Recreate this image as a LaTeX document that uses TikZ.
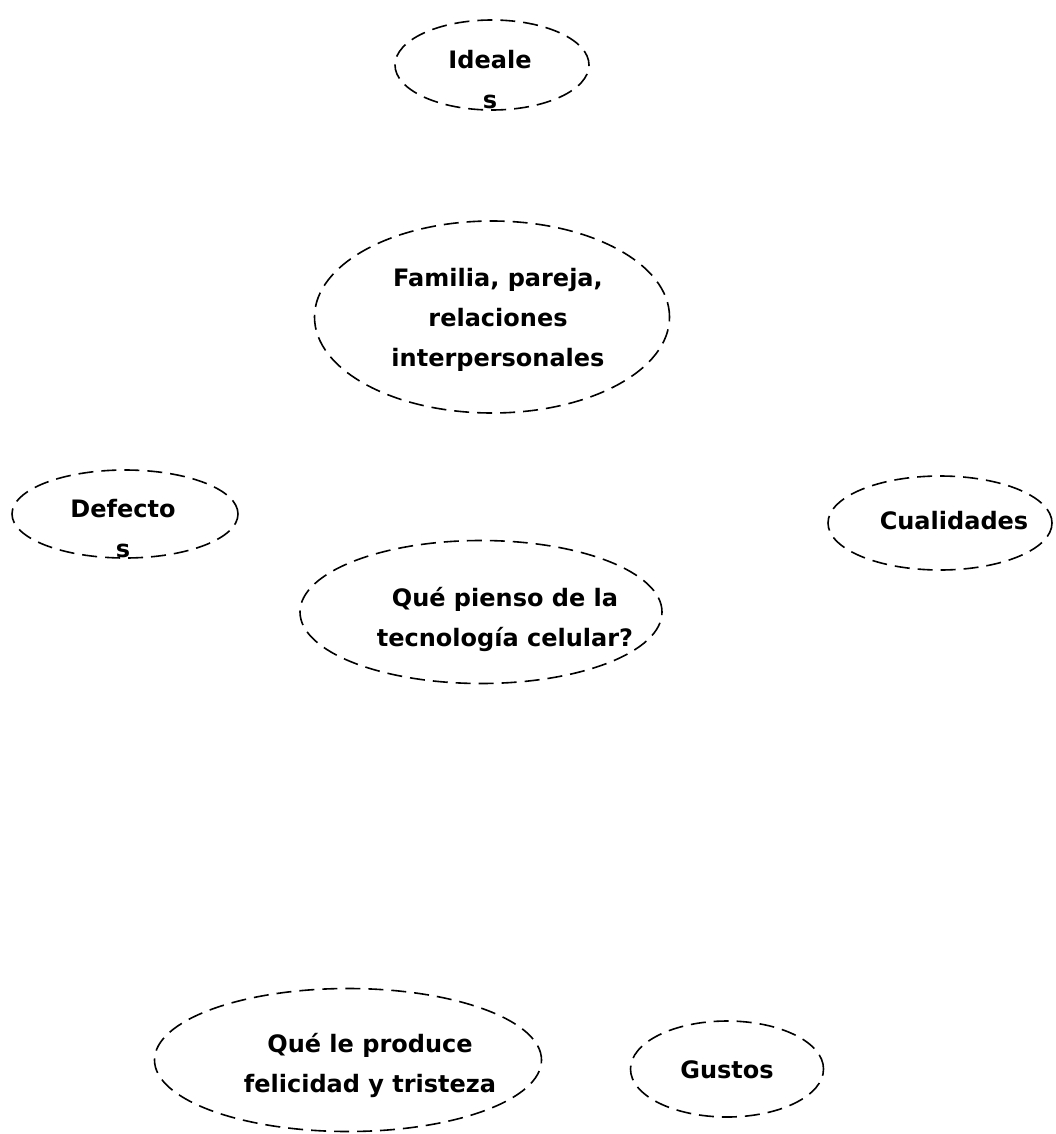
\documentclass[tikz,border=0pt]{standalone}
\usepackage{fontspec}
\setmainfont{DejaVu Sans}
\usetikzlibrary{shapes}
\usetikzlibrary{shapes.geometric}

\begin{document}
\begin{tikzpicture}[x=1pt,y=-1pt,
    burbuja/.style={ellipse,draw,dash pattern=on 15pt off 8pt,
      line width=1.6pt,inner sep=0pt},
    texto/.style={align=center,inner sep=0pt,
      font=\fontsize{24}{40}\selectfont\bfseries}]
  \useasboundingbox (0,0) rectangle (1055,1134);

  % burbujas
  \node[burbuja,minimum width=194pt,minimum height=90pt] (ideales) at (492,65) {};
  \node[burbuja,minimum width=355pt,minimum height=192pt] (familia) at (492,317) {};
  \node[burbuja,minimum width=226pt,minimum height=88pt] (defectos) at (125,514) {};
  \node[burbuja,minimum width=224pt,minimum height=94pt] (cualidades) at (940,523) {};
  \node[burbuja,minimum width=362pt,minimum height=143pt] (tecnologia) at (481,612) {};
  \node[burbuja,minimum width=387pt,minimum height=143pt] (felicidad) at (348,1060) {};
  \node[burbuja,minimum width=193pt,minimum height=96pt] (gustos) at (727,1069) {};

  % textos
  \node[texto] (idealestxt) at (490,80) {Ideale\\s};
  \node[texto] (familiatxt) at (498,320) {Familia, pareja,\\relaciones\\interpersonales};
  \node[texto] (defectostxt) at (123,529) {Defecto\\s};
  \node[texto] (cualidadestxt) at (954,521) {Cualidades};
  \node[texto] (tecnologiatxt) at (505,619) {Qué pienso de la\\tecnología celular?};
  \node[texto] (felicidadtxt) at (370,1065) {Qué le produce\\felicidad y tristeza};
  \node[texto] (gustostxt) at (727,1070) {Gustos};
\end{tikzpicture}
\end{document}
